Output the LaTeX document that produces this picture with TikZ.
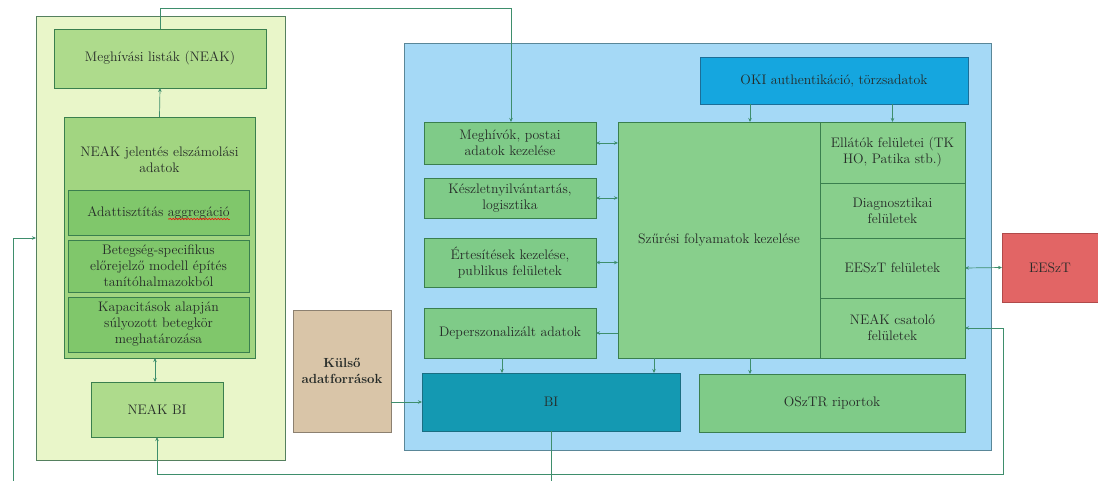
\documentclass[tikz,border=0pt]{standalone}
\usepackage{xcolor}
\usetikzlibrary{arrows.meta,decorations.pathmorphing}
\definecolor{lpfill}{HTML}{E9F6C9}
\definecolor{lpdraw}{HTML}{55805F}
\definecolor{lgfill}{HTML}{AEDB8C}
\definecolor{njfill}{HTML}{A2D581}
\definecolor{sbfill}{HTML}{80C76B}
\definecolor{gbdraw}{HTML}{3A7F4E}
\definecolor{bpfill}{HTML}{A5D9F6}
\definecolor{bpdraw}{HTML}{5A8798}
\definecolor{gfill}{HTML}{7FCB88}
\definecolor{szfill}{HTML}{88CF8C}
\definecolor{okifill}{HTML}{15A6DF}
\definecolor{okidraw}{HTML}{1C6E98}
\definecolor{bifill}{HTML}{1499B2}
\definecolor{bidraw}{HTML}{1A6E82}
\definecolor{kfill}{HTML}{D9C5A8}
\definecolor{kdraw}{HTML}{8C8070}
\definecolor{efill}{HTML}{E26565}
\definecolor{edraw}{HTML}{B04A4A}
\definecolor{lnk}{HTML}{3E8E6C}
\definecolor{txt}{HTML}{262B28}
\newlength\aggw
\newcommand\boxfont{\fontsize{13.8}{16}\selectfont}
\begin{document}
\settowidth{\aggw}{\boxfont aggregáció}%
\begin{tikzpicture}[x=1pt,y=-1pt,
  font=\boxfont, text=txt,
  box/.style={draw, line width=0.8pt, inner sep=0pt, outer sep=0pt, anchor=north west, align=center},
  gbox/.style={box, draw=gbdraw, fill=gfill},
  arr/.style={draw=lnk, line width=0.7pt, -{Stealth[length=4pt,width=3.5pt]}},
  arrb/.style={draw=lnk, line width=0.7pt, {Stealth[length=4pt,width=3.5pt]}-{Stealth[length=4pt,width=3.5pt]}},
  ln/.style={draw=lnk, line width=0.7pt}]
\useasboundingbox (0,0) rectangle (1098,481);
\fill[white] (0,0) rectangle (1098,481);
% left panel
\node[box, draw=lpdraw, fill=lpfill, minimum width=249pt, minimum height=444pt] (leftpanel) at (36,16) {};
\node[box, draw=gbdraw, fill=lgfill, minimum width=212pt, minimum height=59pt] (meghlist) at (54,29) {Meghívási listák (NEAK)};
\node[box, draw=gbdraw, fill=njfill, minimum width=191pt, minimum height=241pt] (neakjel) at (64,117) {};
\node[align=center] (neakjelt) at (159.5,160) {NEAK jelentés elszámolási\\adatok};
\node[box, draw=gbdraw, fill=sbfill, minimum width=181pt, minimum height=45pt] (adatt) at (68,190) {};
\node[inner sep=0pt] (adT) at (adatt.center) {Adattisztítás aggregáció};
\node[box, draw=gbdraw, fill=sbfill, minimum width=181pt, minimum height=52pt] (beteg) at (68,240) {Betegség-specifikus\\előrejelző modell építés\\tanítóhalmazokból};
\node[box, draw=gbdraw, fill=sbfill, minimum width=181pt, minimum height=55pt] (kapac) at (68,297) {Kapacitások alapján\\súlyozott betegkör\\meghatározása};
\node[box, draw=gbdraw, fill=lgfill, minimum width=132pt, minimum height=55pt] (neakbi) at (91,382) {NEAK BI};
% external sources
\node[box, draw=kdraw, fill=kfill, minimum width=98pt, minimum height=122pt, font=\fontsize{13.2}{16}\selectfont\bfseries] (kulso) at (293,310) {Külső\\adatforrások};
% blue panel
\node[box, draw=bpdraw, fill=bpfill, minimum width=587pt, minimum height=407pt] (bluepanel) at (404,43) {};
\node[box, draw=okidraw, fill=okifill, minimum width=268pt, minimum height=47pt] (oki) at (700,57) {OKI authentikáció, törzsadatok};
\node[gbox, minimum width=172pt, minimum height=42pt] (meghiv) at (424,122) {Meghívók, postai\\adatok kezelése};
\node[gbox, minimum width=172pt, minimum height=40pt] (keszlet) at (424,178) {Készletnyilvántartás,\\logisztika};
\node[gbox, minimum width=172pt, minimum height=49pt] (ertes) at (424,238) {Értesítések kezelése,\\publikus felületek};
\node[gbox, minimum width=172pt, minimum height=50pt] (deper) at (424,308) {Deperszonalizált adatok};
\node[gbox, fill=szfill, minimum width=202pt, minimum height=236pt] (szur) at (618,122) {Szűrési folyamatok kezelése};
\node[gbox, fill=szfill, minimum width=145pt, minimum height=61pt] (ellatok) at (820,122) {Ellátók felületei (TK\\HO, Patika stb.)};
\node[gbox, fill=szfill, minimum width=145pt, minimum height=55pt] (diag) at (820,183) {Diagnosztikai\\felületek};
\node[gbox, fill=szfill, minimum width=145pt, minimum height=60pt] (eesztf) at (820,238) {EESzT felületek};
\node[gbox, fill=szfill, minimum width=145pt, minimum height=60pt] (neakcs) at (820,298) {NEAK csatoló\\felületek};
\node[box, draw=bidraw, fill=bifill, minimum width=258pt, minimum height=58pt] (bi) at (422,373) {BI};
\node[gbox, minimum width=266pt, minimum height=58pt] (osztr) at (699,374) {OSzTR riportok};
\node[box, draw=edraw, fill=efill, minimum width=96pt, minimum height=69pt] (eeszt) at (1002,233) {EESzT};
% spell-check squiggle
\draw[red, line width=0.6pt, decorate, decoration={snake, amplitude=0.7pt, segment length=3pt}]
  ([yshift=-3pt]adT.base east) -- ([yshift=-3pt, xshift=-\aggw]adT.base east);
% helper coordinates
\coordinate (t1) at (511,8);
\coordinate (lb) at (13,481);
\coordinate (c1) at (1003,474);
\coordinate (bb) at (552,481);
\coordinate (x750) at (750,0);
\coordinate (x502) at (502,0);
\coordinate (x654) at (654,0);
\coordinate (x155) at (155,0);
% connectors
\draw[arr] (neakjel.north) -- (meghlist.south);
\draw[arrb] (neakbi.north -| x155) -- (neakjel.south -| x155);
\draw[arr] (meghlist.north) |- (t1) -- (t1 |- meghiv.north);
\draw[arr] (lb) |- (leftpanel.west);
\draw[arrb] (neakcs.east) -| (c1) -| (neakbi.south);
\draw[ln] (bi.south) -- (bi.south |- bb);
\draw[arrb] (meghiv.east) -- (meghiv.east -| szur.west);
\draw[arrb] (keszlet.east) -- (keszlet.east -| szur.west);
\draw[arrb] (ertes.east) -- (ertes.east -| szur.west);
\draw[arr] (deper.east -| szur.west) -- (deper.east);
\draw[arr] (oki.south -| x750) -- (szur.north -| x750);
\draw[arr] (ellatok.north |- oki.south) -- (ellatok.north);
\draw[arr] (deper.south -| x502) -- (bi.north -| x502);
\draw[arr] (szur.south -| x654) -- (bi.north -| x654);
\draw[arr] (szur.south -| x750) -- (osztr.north -| x750);
\draw[arr] (kulso.east |- bi.west) -- (bi.west);
\draw[arrb] (eesztf.east) -- (eeszt.west);
\end{tikzpicture}
\end{document}
